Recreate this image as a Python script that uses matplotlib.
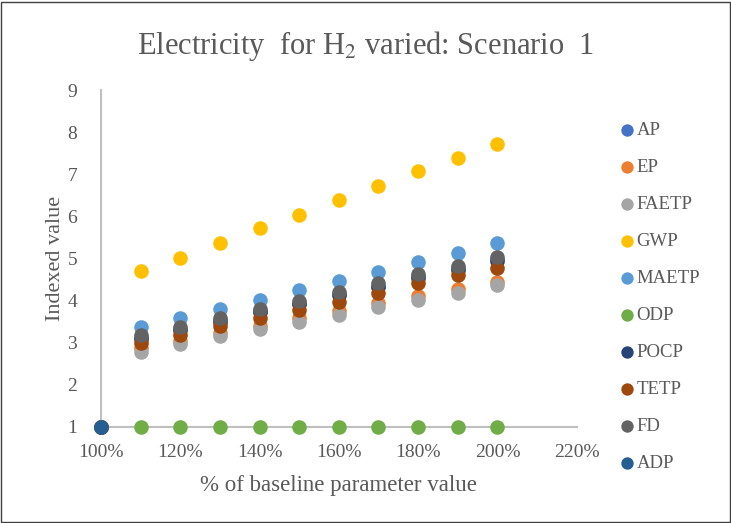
import matplotlib
matplotlib.use("Agg")
import matplotlib.pyplot as plt
from matplotlib.patches import Rectangle
from matplotlib.ticker import FuncFormatter

plt.rcParams['font.family'] = ['Liberation Serif', 'DejaVu Serif']

x_vals = [1.0, 1.1, 1.2, 1.3, 1.4, 1.5, 1.6, 1.7, 1.8, 1.9, 2.0]

AP = [1, 3.14, 3.33, 3.53, 3.75, 3.94, 4.16, 4.36, 4.58, 4.77, 4.98]
EP = [1, 2.87, 3.05, 3.24, 3.40, 3.58, 3.75, 3.94, 4.10, 4.27, 4.45]
FAETP = [1, 2.79, 2.96, 3.16, 3.32, 3.50, 3.66, 3.86, 4.02, 4.19, 4.37]
GWP = [1, 4.70, 5.01, 5.38, 5.72, 6.04, 6.38, 6.72, 7.09, 7.38, 7.73]
MAETP = [1, 3.38, 3.58, 3.80, 4.02, 4.25, 4.47, 4.69, 4.93, 5.13, 5.37]
ODP = [1, 1, 1, 1, 1, 1, 1, 1, 1, 1, 1]
POCP = [1, 3.10, 3.30, 3.50, 3.72, 3.91, 4.13, 4.33, 4.55, 4.74, 4.95]
TETP = [1, 2.99, 3.19, 3.40, 3.58, 3.78, 3.98, 4.19, 4.41, 4.61, 4.77]
FD = [1, 3.19, 3.38, 3.58, 3.80, 3.99, 4.21, 4.41, 4.63, 4.82, 5.03]
ADP_x = [1.0]
ADP = [1]

series = [
    ("AP", x_vals, AP, "#4472C4"),
    ("EP", x_vals, EP, "#ED7D31"),
    ("FAETP", x_vals, FAETP, "#A5A5A5"),
    ("GWP", x_vals, GWP, "#FFC000"),
    ("MAETP", x_vals, MAETP, "#5B9BD5"),
    ("ODP", x_vals, ODP, "#70AD47"),
    ("POCP", x_vals, POCP, "#264478"),
    ("TETP", x_vals, TETP, "#9E480E"),
    ("FD", x_vals, FD, "#636363"),
    ("ADP", ADP_x, ADP, "#255E91"),
]

fig = plt.figure(figsize=(7.31, 5.23), dpi=100)
ax = fig.add_axes([0.138, 0.1836, 0.651, 0.644])

for name, xs, ys, c in series:
    ax.scatter(xs, ys, s=110, color=c, label=name, linewidths=0, zorder=3, clip_on=False)

ax.set_xlim(1.0, 2.2)
ax.set_ylim(1, 9)
ax.set_xticks([1.0, 1.2, 1.4, 1.6, 1.8, 2.0, 2.2])
ax.set_yticks(range(1, 10))
ax.xaxis.set_major_formatter(FuncFormatter(lambda v, p: f"{v*100:.0f}%"))
ax.tick_params(length=0, labelsize=14, colors="#595959")
ax.tick_params(axis="x", pad=12)
ax.tick_params(axis="y", pad=17)
for s in ["top", "right"]:
    ax.spines[s].set_visible(False)
for s in ["left", "bottom"]:
    ax.spines[s].set_color("#BFBFBF")
    ax.spines[s].set_linewidth(1.5)

ax.set_xlabel("% of baseline parameter value", fontsize=16.5, color="#595959", labelpad=10)
ax.set_ylabel("Indexed value", fontsize=16, color="#595959", labelpad=2)

fig.text(0.5, 0.913, "Electricity  for H$_2$ varied: Scenario  1", ha="center", va="center",
         fontsize=22, color="#595959", math_fontfamily="stix")

leg = fig.legend(loc="upper left", bbox_to_anchor=(0.832, 0.782), frameon=False,
                 fontsize=13.5, labelspacing=1.06, handletextpad=-0.1, handlelength=1.2,
                 markerscale=0.85, borderaxespad=0)
for t in leg.get_texts():
    t.set_color("#595959")

fig.patches.append(Rectangle((0.002, 0.002), 0.996, 0.994, transform=fig.transFigure,
                             fill=False, edgecolor="#404040", linewidth=1))

fig.savefig("out.png", dpi=100)
